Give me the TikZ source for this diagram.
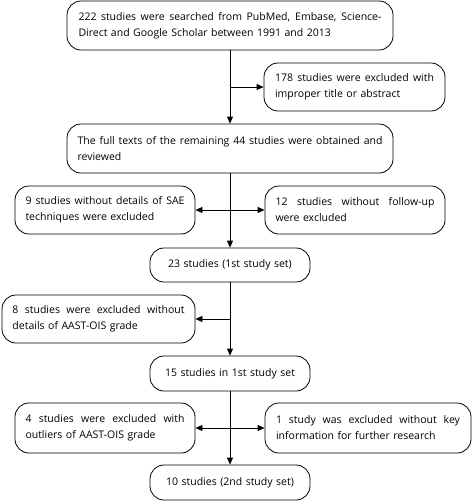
\documentclass[tikz,border=0pt]{standalone}
\usepackage{fontspec}
\setmainfont{Open Sans}
\usetikzlibrary{arrows.meta}

\newcommand{\fillline}[2]{\makebox[#1][s]{\spaceskip=0pt \xspaceskip=0pt #2}}

\tikzset{
  box/.style={draw, rounded corners=14pt, line width=0.8pt, inner xsep=10pt, inner ysep=0pt,
    align=left, font=\fontsize{10.5}{16}\selectfont},
  setbox/.style={box, align=center, text width=140pt, minimum height=35pt},
  arr/.style={-{Triangle[length=7pt,width=6pt]}, line width=0.8pt}
}

\begin{document}
\begin{tikzpicture}[x=1pt,y=-1pt]
    \useasboundingbox (0,0) rectangle (472,501);
    % main column
    \node[box, text width=303pt, minimum width=326pt, minimum height=49pt] (search) at (230,25.5)
        {\fillline{303pt}{222 studies were searched from PubMed, Embase, Science-}\\
         Direct and Google Scholar between 1991 and 2013};
    \node[box, text width=305pt, minimum width=326pt, minimum height=49pt] (full) at (230,148.5)
        {\fillline{305pt}{The full texts of the remaining 44 studies were obtained and}\\
         reviewed};
    \node[setbox, minimum height=34pt] (first) at (230,265) {23 studies (1st study set)};
    \node[setbox] (firstb) at (230,373.5) {15 studies in 1st study set};
    \node[setbox] (second) at (230,482.5) {10 studies (2nd study set)};
    % excluded
    \node[box, text width=159pt, minimum width=181pt, minimum height=48pt] (title) at (354.5,87)
        {\fillline{159pt}{178 studies were excluded with}\\ improper title or abstract};
    \node[box, text width=159pt, minimum width=180pt, minimum height=48pt] (sae) at (105,210)
        {\fillline{159pt}{9 studies without details of SAE}\\ techniques were excluded};
    \node[box, text width=159pt, minimum width=180pt, minimum height=48pt] (follow) at (355,210)
        {\fillline{159pt}{12 studies without follow-up}\\ were excluded};
    \node[box, text width=172pt, minimum width=193pt, minimum height=48pt] (grade) at (98.5,319)
        {\fillline{172pt}{8 studies were excluded without}\\ details of AAST-OIS grade};
    \node[box, text width=159pt, minimum width=180pt, minimum height=50pt] (outl) at (105,428)
        {\fillline{159pt}{4 studies were excluded with}\\ outliers of AAST-OIS grade};
    \node[box, text width=184pt, minimum width=206pt, minimum height=50pt] (key) at (368,428)
        {\fillline{184pt}{1 study was excluded without key}\\ information for further research};
    % branch points
    \coordinate (j1) at (search.south |- title.west);
    \coordinate (j2) at (full.south |- sae.east);
    \coordinate (j3) at (first.south |- grade.east);
    \coordinate (j4) at (firstb.south |- outl.east);
    % connectors
    \draw[arr] (search) -- (full);
    \draw[arr] (j1) -- (title);
    \draw[arr] (full) -- (first);
    \draw[arr] (j2) -- (sae);
    \draw[arr] (j2) -- (follow);
    \draw[arr] (first) -- (firstb);
    \draw[arr] (j3) -- (grade);
    \draw[arr] (firstb) -- (second);
    \draw[arr] (j4) -- (outl);
    \draw[arr] (j4) -- (key);
\end{tikzpicture}
\end{document}
